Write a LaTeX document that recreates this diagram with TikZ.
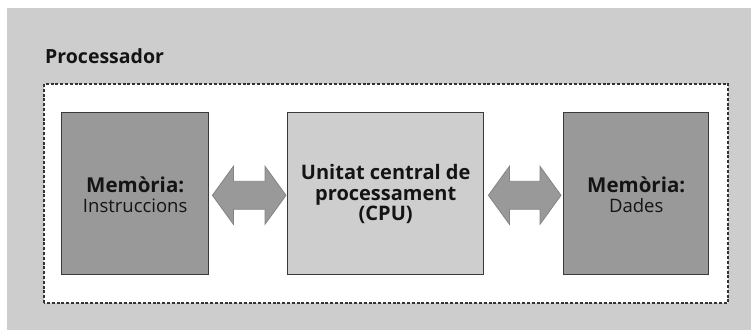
\documentclass[tikz,border=0pt]{standalone}
\usepackage{fontspec}
\setmainfont{Open Sans}
\usetikzlibrary{calc}
\definecolor{bggray}{HTML}{CDCDCD}
\definecolor{memgray}{HTML}{999999}
\definecolor{cpugray}{HTML}{CECECE}
\definecolor{edgegray}{HTML}{3A3A3A}
\definecolor{arrowline}{HTML}{858585}
\definecolor{textdark}{HTML}{141414}
\tikzset{
  unitbox/.style={draw=edgegray, line width=1.4pt, minimum width=147pt, minimum height=162pt, inner sep=0pt, anchor=south west},
  boxtext/.style={align=center, text=textdark, font=\fontsize{18.5}{20}\selectfont},
  dashbox/.style={draw=black!80, line width=1.2pt, dash pattern=on 3pt off 1.8pt, fill=white},
  arrowstyle/.style={fill=memgray, draw=arrowline, line width=0.8pt, line join=miter}
}
\newcommand{\dblarrow}[2]{%
  \path[arrowstyle] (#1) -- ++(21,29) -- ++(0,-15) -- ($(#2)+(-21,14)$) -- ++(0,15) -- (#2)
    -- ++(-21,-29) -- ++(0,15) -- ($(#1)+(21,-14)$) -- ++(0,-15) -- cycle;}
\begin{document}
\begin{tikzpicture}[x=1pt,y=1pt]
\useasboundingbox (0,0) rectangle (751,330);
\fill[bggray] (7,0) rectangle (751,322);
\node[font=\bfseries\fontsize{19.5}{20}\selectfont, text=textdark, anchor=base west, inner sep=0pt] (title) at (45,266) {Processador};
\path[dashbox] (44,27) rectangle (728,246);
\node[unitbox, fill=memgray] (lmem) at (61,55) {};
\node[unitbox, fill=cpugray, minimum width=196pt] (cpu) at (287,55) {};
\node[unitbox, fill=memgray, minimum width=145pt] (rmem) at (563,55) {};
\node[boxtext] (ltext) at ($(lmem.center)+(0,-1)$) {{\fontsize{20.5}{20}\selectfont\bfseries Memòria:}\\Instruccions};
\node[boxtext, font=\bfseries\fontsize{20}{20.5}\selectfont] (ctext) at ($(cpu.center)+(0,-1)$) {Unitat central de\\processament\\(CPU)};
\node[boxtext] (rtext) at ($(rmem.center)+(0,-1)$) {{\fontsize{20.5}{20}\selectfont\bfseries Memòria:}\\Dades};
\coordinate (a1) at ($(lmem.east)+(3,-2)$);
\coordinate (a2) at ($(cpu.west)+(-1,-2)$);
\coordinate (b1) at ($(cpu.east)+(4,-2)$);
\coordinate (b2) at ($(rmem.west)+(-2,-2)$);
\dblarrow{a1}{a2}
\dblarrow{b1}{b2}
\end{tikzpicture}
\end{document}
